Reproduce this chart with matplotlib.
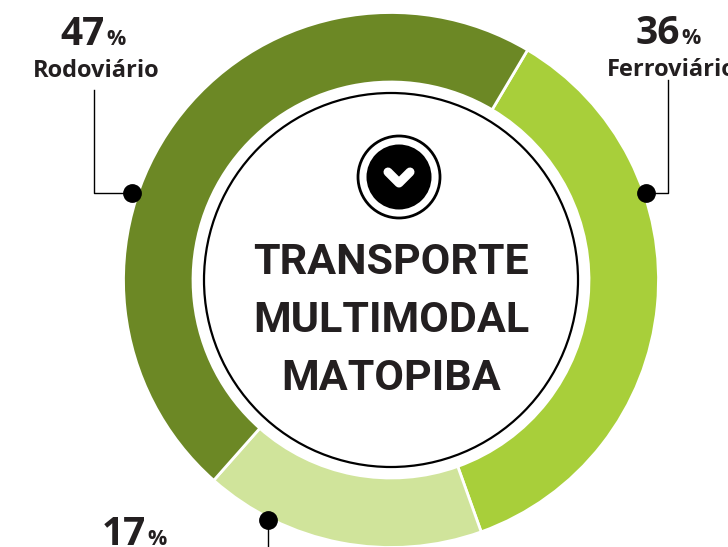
import matplotlib
matplotlib.use("Agg")
import matplotlib.pyplot as plt
from matplotlib.patches import Circle

plt.rcParams['font.family'] = ['Open Sans', 'DejaVu Sans']

# dados do grafico
modais = ["Rodoviário", "Ferroviário"]
valores = [47, 36, 17]
cores = ["#6c8825", "#a8cf3a", "#d0e49b"]
linhas_titulo = ["TRANSPORTE", "MULTIMODAL", "MATOPIBA"]

W, H = 728, 547
fig = plt.figure(figsize=(W / 100, H / 100), dpi=100)
ax = fig.add_axes([0, 0, 1, 1])
ax.set_xlim(0, W)
ax.set_ylim(H, 0)
ax.axis("off")

cx, cy, r = 391, 280, 267.5
escuro = "#231f20"

# sentido horario a partir do Ferroviario (topo direito)
ordem = [1, 2, 0]
ax_pie = fig.add_axes([(cx - r) / W, 1 - (cy + r) / H, 2 * r / W, 2 * r / H])
ax_pie.pie([valores[i] for i in ordem], colors=[cores[i] for i in ordem],
           startangle=59.3, counterclock=False, radius=1,
           wedgeprops=dict(width=1 - 198 / 267.5, edgecolor="white", linewidth=2))
ax_pie.set_xlim(-1, 1)
ax_pie.set_ylim(-1, 1)

# circulo central
ax.set_zorder(2)
ax.patch.set_visible(False)
ax.add_patch(Circle((cx, cy), 187, fc="white", ec="black", lw=1.6))

# icone
ax.add_patch(Circle((399, 177), 41, fc="white", ec="black", lw=2))
ax.add_patch(Circle((399, 177), 32.5, fc="black", ec="none"))
ax.plot([388, 399, 410], [172, 183, 172], color="white", lw=6.5,
        solid_capstyle="round", solid_joinstyle="round")

# titulo, uma linha por vez (Roboto e mais estreita)
for texto, y in zip(linhas_titulo, [274, 332, 390]):
    ax.text(391, y, texto, fontsize=31, fontweight="bold", family="Roboto", color=escuro,
            ha="center", va="baseline")

# linhas de chamada
ax.plot([94, 94, 132], [90, 193, 193], color="black", lw=1)
ax.plot([668, 668, 646], [80, 193, 193], color="black", lw=1)
ax.plot([268, 268], [520, 547], color="black", lw=1)
for x, y in [(132, 193), (646, 193), (268, 520)]:
    ax.plot(x, y, "o", color="black", ms=12.5)

# rotulos
for x, y, v in [(105, 45, valores[0]), (680, 44, valores[1]), (146, 545, valores[2])]:
    ax.text(x, y, str(v), fontsize=28, fontweight="bold", color=escuro, ha="right", va="baseline")
    ax.text(x + 1, y, "%", fontsize=15.5, fontweight="bold", color=escuro, ha="left", va="baseline")
ax.text(33, 77, modais[0], fontsize=17, fontweight="bold", color=escuro, ha="left", va="baseline")
ax.text(607, 76, modais[1], fontsize=17, fontweight="bold", color=escuro, ha="left", va="baseline")

fig.savefig("out.png", dpi=100)
